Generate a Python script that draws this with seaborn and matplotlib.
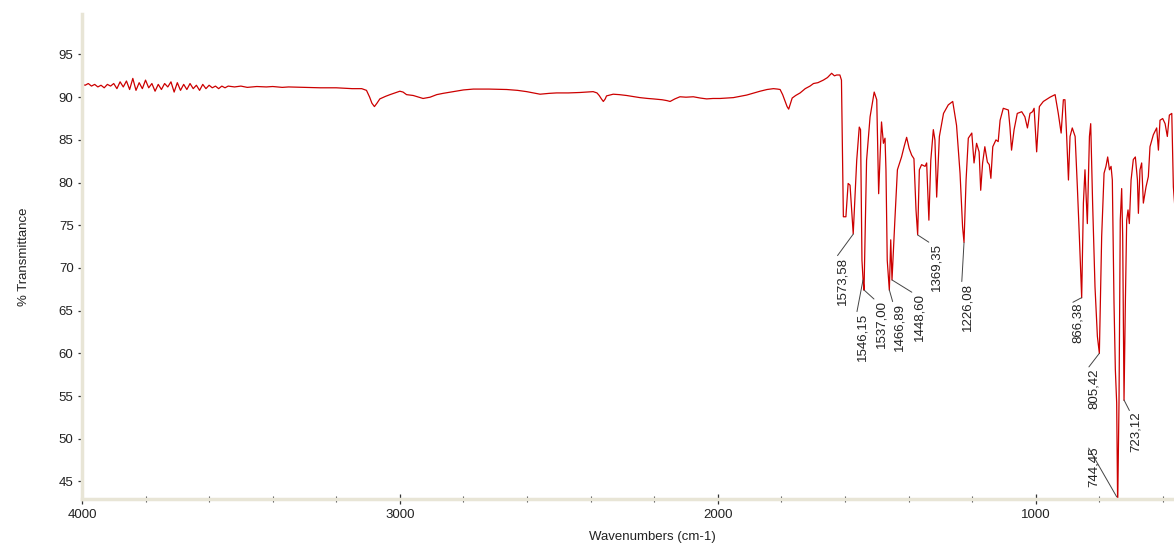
import matplotlib
matplotlib.use("Agg")
import matplotlib.pyplot as plt
import numpy as np
import pandas as pd
import seaborn as sns
from matplotlib.ticker import MultipleLocator

# ---------------- data ----------------
wavenumbers = [
    4000, 3990, 3980, 3970, 3960, 3950, 3940, 3930, 3920, 3910, 3900, 3890, 3880, 3870,
    3860, 3850, 3840, 3830, 3820, 3810, 3800, 3790, 3780, 3770, 3760, 3750, 3740, 3730,
    3720, 3710, 3700, 3690, 3680, 3670, 3660, 3650, 3640, 3630, 3620, 3610, 3600, 3590,
    3580, 3570, 3560, 3550, 3540, 3520, 3500, 3480, 3450, 3420, 3400, 3370, 3350, 3300,
    3250, 3200, 3150, 3120, 3105, 3095, 3088, 3080, 3072, 3063, 3045, 3031, 3015, 3000,
    2990, 2979, 2958, 2940, 2927, 2905, 2884, 2864, 2840, 2800, 2769, 2720, 2664, 2630,
    2601, 2559, 2530, 2507, 2470, 2434, 2392, 2380, 2373, 2366, 2360, 2354, 2350, 2329,
    2310, 2287, 2245, 2220, 2203, 2175, 2160, 2150, 2135, 2119, 2100, 2077, 2055, 2035,
    2015, 1993, 1970, 1951, 1930, 1909, 1885, 1867, 1845, 1825, 1812, 1804, 1796, 1788,
    1782, 1777, 1772, 1766, 1755, 1741, 1725, 1710, 1699, 1685, 1668, 1655, 1642, 1633,
    1626, 1616, 1611, 1605, 1597, 1590, 1584, 1579, 1574, 1563, 1555, 1551, 1546.5, 1543,
    1540, 1536, 1532, 1521, 1508, 1500, 1494, 1490, 1485, 1479, 1474, 1471, 1467, 1460.4,
    1456, 1452, 1443, 1435, 1422, 1414, 1406, 1398, 1390, 1383, 1376.5, 1371.3, 1366, 1359,
    1348, 1343, 1336, 1330, 1322, 1317, 1311.5, 1303, 1290, 1275, 1261, 1249, 1238, 1230,
    1225.5, 1219, 1212, 1201, 1194, 1186, 1178, 1173, 1167, 1160, 1152, 1146, 1141, 1135,
    1125, 1118, 1112, 1102, 1086, 1081, 1076, 1068, 1058, 1044, 1034, 1026, 1018, 1010,
    1005, 997, 988.5, 976, 955, 939, 929, 920, 913, 908, 902.6, 897, 892, 885,
    876, 869, 862.7, 855.4, 850, 845, 837.6, 831, 827, 821, 813.5, 806, 799.8, 792.5,
    785, 779, 773.6, 768, 763, 759, 753.7, 749.5, 745.3, 742.2, 738, 734, 729.6, 726.4,
    722.2, 718, 713.8, 709.6, 705.5, 700, 693, 686.6, 680, 677, 672, 666.7, 661.4, 653,
    645.7, 640.5, 630, 619.5, 614, 609, 600.6, 593, 586, 579.6, 572, 567, 560,
]
transmittance = [
    91.5, 91.4, 91.6, 91.3, 91.5, 91.2, 91.4, 91.1, 91.5, 91.3, 91.6, 91.0, 91.8, 91.2,
    91.9, 90.9, 92.2, 90.8, 91.7, 91.0, 92.0, 91.1, 91.6, 90.7, 91.5, 90.9, 91.6, 91.2,
    91.8, 90.6, 91.7, 90.8, 91.5, 90.9, 91.6, 91.0, 91.4, 90.8, 91.5, 91.0, 91.4, 91.1,
    91.3, 91.0, 91.3, 91.1, 91.3, 91.2, 91.3, 91.15, 91.25, 91.2, 91.25, 91.15, 91.2, 91.15,
    91.1, 91.1, 91.0, 91.0, 90.8, 90.0, 89.3, 88.9, 89.3, 89.8, 90.1, 90.3, 90.5, 90.7,
    90.6, 90.3, 90.2, 90.0, 89.85, 90.0, 90.3, 90.45, 90.6, 90.85, 90.95, 90.95, 90.9, 90.8,
    90.65, 90.35, 90.45, 90.5, 90.5, 90.55, 90.65, 90.5, 90.2, 89.8, 89.5, 89.8, 90.15, 90.35,
    90.3, 90.2, 89.95, 89.85, 89.8, 89.7, 89.6, 89.5, 89.8, 90.05, 90.0, 90.05, 89.9, 89.8,
    89.85, 89.85, 89.9, 89.95, 90.1, 90.25, 90.5, 90.7, 90.9, 91.0, 90.95, 90.9, 90.3, 89.5,
    88.9, 88.6, 89.2, 89.9, 90.2, 90.5, 91.0, 91.3, 91.6, 91.7, 92.0, 92.3, 92.8, 92.5,
    92.6, 92.6, 92.0, 76.0, 76.0, 79.9, 79.7, 76.8, 74.0, 82.6, 86.5, 86.2, 70.9, 68.6,
    67.4, 74.8, 82.6, 87.7, 90.6, 89.7, 78.7, 82.6, 87.1, 84.6, 85.2, 81.5, 70.9, 67.4,
    73.3, 68.6, 75.6, 81.5, 83.0, 84.2, 85.3, 84.0, 83.2, 82.8, 76.8, 73.9, 81.5, 82.1,
    81.9, 82.3, 75.6, 82.6, 86.2, 85.0, 78.3, 85.4, 88.1, 89.1, 89.5, 86.7, 81.1, 74.8,
    73.0, 80.3, 85.2, 85.8, 82.3, 84.6, 83.6, 79.1, 82.3, 84.2, 82.4, 82.1, 80.5, 84.2,
    85.0, 84.8, 87.3, 88.7, 88.5, 86.5, 83.8, 86.2, 88.1, 88.3, 87.7, 86.4, 88.1, 88.3,
    88.7, 83.6, 88.9, 89.5, 90.0, 90.3, 88.1, 85.8, 89.7, 89.7, 85.4, 80.3, 85.4, 86.4,
    85.4, 79.5, 73.7, 66.5, 77.6, 81.5, 75.2, 85.4, 86.9, 77.6, 67.8, 62.0, 60.0, 73.7,
    81.1, 81.9, 83.0, 81.5, 81.9, 80.3, 65.9, 58.1, 54.2, 42.0, 54.2, 75.6, 79.3, 73.7,
    54.5, 65.9, 75.6, 76.8, 75.2, 80.3, 82.7, 83.0, 80.3, 76.4, 81.5, 82.3, 77.6, 79.5,
    80.7, 84.2, 85.6, 86.4, 83.8, 87.3, 87.5, 86.9, 85.4, 87.9, 88.1, 79.5, 76.0,
]

peak_labels = ["1573,58", "1546,15", "1537,00", "1466,89", "1448,60", "1369,35",
               "1226,08", "866,38", "805,42", "744,45", "723,12"]
# where each label's leader line touches the spectrum (wavenumber, %T)
peak_wn = [1573.7, 1543.2, 1540.1, 1460.4, 1452.0, 1371.3, 1225.5, 855.4, 799.8, 745.2, 722.2]
peak_t = [73.98, 68.6, 67.43, 67.43, 68.6, 73.87, 72.97, 66.53, 60.01, 43.2, 54.54]

y_ticks = [45, 50, 55, 60, 65, 70, 75, 80, 85, 90, 95]
x_ticks = [4000, 3000, 2000, 1000]

# ---------------- layout (pixel offsets of label top-left from leader anchor) ----------------
label_offsets = [(-16.6, -22.7), (-6.3, -33), (11, -10), (3.7, -13), (21, -13), (12.3, -8),
                 (-2.3, -40.3), (-10, -5.3), (-11.3, -14.7), (-28.7, 50), (6, -11.7)]

sns.set_theme(style="white")
plt.rcParams["font.family"] = ["Liberation Sans", "DejaVu Sans"]

fig = plt.figure(figsize=(11.74, 5.44), dpi=100)
ax = fig.add_axes([0.0698, 0.0835, 0.9302, 0.8909])

df = pd.DataFrame({"Wavenumber": wavenumbers, "T": transmittance})
sns.lineplot(data=df, x="Wavenumber", y="T", ax=ax, color="#cc0000",
             linewidth=0.9, sort=False, estimator=None)

ax.set_xlim(4000, 565)
ax.set_ylim(43.0, 99.75)
ax.set_xticks(x_ticks)
ax.set_xticklabels([str(v) for v in x_ticks])
ax.set_yticks(y_ticks)
ax.set_yticklabels([str(v) for v in y_ticks])
ax.xaxis.set_minor_locator(MultipleLocator(200))
ax.yaxis.set_minor_locator(MultipleLocator(1))

for s in ["top", "right"]:
    ax.spines[s].set_visible(False)
for s in ["left", "bottom"]:
    ax.spines[s].set_color("#e8e5d6")
    ax.spines[s].set_linewidth(2.5)

ax.tick_params(axis="x", which="major", direction="inout", length=7, width=0.9,
               color="#333333", labelsize=9.5, labelcolor="#222222", pad=4, bottom=True)
ax.tick_params(axis="x", which="minor", direction="inout", length=4, width=0.8,
               color="#555555", bottom=True)
ax.tick_params(axis="y", which="major", direction="out", length=3, width=0.9,
               color="#333333", labelsize=9.5, labelcolor="#222222", pad=3, left=True)
ax.tick_params(axis="y", which="minor", direction="inout", length=1.5, width=0.9,
               color="#555555", left=True)

ax.set_xlabel("Wavenumbers (cm-1)", fontsize=9.5, color="#222222")
ax.set_ylabel("% Transmittance", fontsize=9.5, color="#222222")
ax.xaxis.set_label_coords(0.522, -0.066)
ax.yaxis.set_label_coords(-0.048, 0.5)

for lab, xw, yt, (ox, oy) in zip(peak_labels, peak_wn, peak_t, label_offsets):
    ax.annotate(lab, xy=(xw, yt), xytext=(ox, oy), textcoords="offset pixels",
                rotation=90, ha="left", va="top", fontsize=9.5, color="#222222",
                annotation_clip=False,
                arrowprops=dict(arrowstyle="-", color="#444444", lw=0.7,
                                shrinkA=1, shrinkB=0, relpos=(0, 1), patchA=None))

fig.savefig("out.png", dpi=100)
